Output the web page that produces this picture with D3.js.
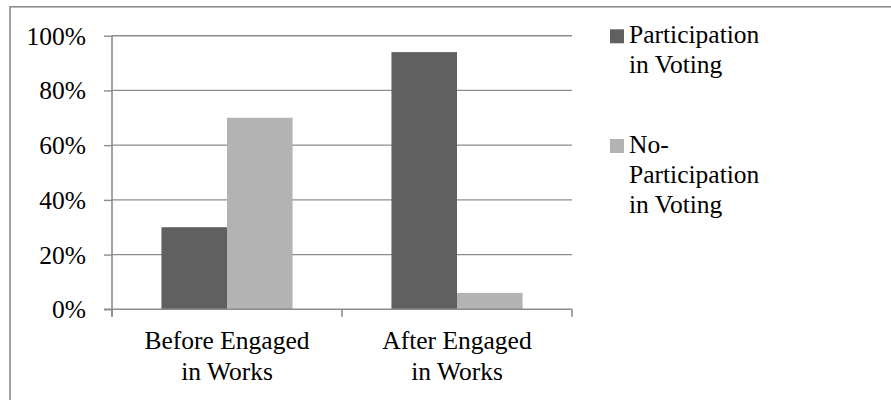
<!DOCTYPE html>
<html>
<head>
<meta charset="utf-8">
<script src="https://cdn.jsdelivr.net/npm/d3@7"></script>
<style>
  body { margin: 0; background: #fff; }
</style>
</head>
<body>
<svg class="chart"></svg>
<script>
// chart data
var categories = [["Before Engaged", "in Works"], ["After Engaged", "in Works"]];
var seriesNames = [["Participation", "in Voting"], ["No-", "Participation", "in Voting"]];
var participation = [0.30, 0.94];
var noParticipation = [0.70, 0.06];
var yTicks = [0, 0.2, 0.4, 0.6, 0.8, 1.0];

var serif = "'Liberation Serif', 'Times New Roman', serif";

function renderChart() {
    var width = 891, height = 400;
    var margin = { top: 35.7, left: 112, right: 319, bottom: 90.7 };
    var colors = ["#606060", "#b3b3b3"];
    var gridColor = "#8c8c8c";
    var fontSize = 25.5;

    var chart = d3.select(".chart")
        .attr("width", width)
        .attr("height", height);

    // outer frame, runs off the right and bottom edge
    chart.append("rect")
        .attr("x", 10).attr("y", 6.8)
        .attr("width", 900).attr("height", 420)
        .attr("fill", "none")
        .attr("stroke", gridColor)
        .attr("stroke-width", 1.6);

    var xScale = d3.scaleBand()
        .domain(d3.range(categories.length))
        .range([margin.left, width - margin.right])
        .paddingInner(0.43)
        .paddingOuter(0.215);

    var yScale = d3.scaleLinear()
        .domain([0, 1])
        .range([height - margin.bottom, margin.top]);

    // gridlines
    chart.append("g").selectAll("line")
        .data(yTicks.slice(1))
        .enter()
        .append("line")
        .attr("x1", margin.left).attr("x2", width - margin.right)
        .attr("y1", function(d) { return yScale(d); })
        .attr("y2", function(d) { return yScale(d); })
        .attr("stroke", gridColor)
        .attr("stroke-width", 1.4);

    // bars
    var sub = d3.scaleBand()
        .domain([0, 1])
        .range([0, xScale.bandwidth()]);
    var series = [participation, noParticipation];
    series.forEach(function(values, s) {
        chart.append("g").selectAll("rect")
            .data(values)
            .enter()
            .append("rect")
            .attr("x", function(d, i) { return xScale(i) + sub(s); })
            .attr("width", sub.bandwidth())
            .attr("y", function(d) { return yScale(d); })
            .attr("height", function(d) { return yScale(0) - yScale(d); })
            .attr("fill", colors[s]);
    });

    // y axis
    var yAxis = d3.axisLeft(yScale)
        .tickValues(yTicks)
        .tickSize(8)
        .tickPadding(18)
        .tickFormat(d3.format(".0%"));
    var yg = chart.append("g")
        .attr("transform", "translate(" + margin.left + ",0)")
        .call(yAxis);
    yg.select(".domain").remove();
    yg.append("line")
        .attr("y1", yScale(1)).attr("y2", yScale(0) + 7.5)
        .attr("stroke", gridColor).attr("stroke-width", 1.6);
    yg.selectAll(".tick line").attr("stroke", gridColor).attr("stroke-width", 1.4);
    yg.selectAll(".tick text")
        .attr("font-size", fontSize)
        .attr("dy", "0.33em")
        .attr("fill", "#000")
        .style("font-family", serif);

    // x axis line and ticks between categories
    var xAxisY = yScale(0);
    var xEdges = d3.range(categories.length + 1).map(function(i) {
        return margin.left + i * (width - margin.right - margin.left) / categories.length;
    });
    chart.append("line")
        .attr("x1", margin.left - 8).attr("x2", width - margin.right)
        .attr("y1", xAxisY).attr("y2", xAxisY)
        .attr("stroke", gridColor).attr("stroke-width", 1.6);
    chart.append("g").selectAll("line")
        .data(xEdges)
        .enter()
        .append("line")
        .attr("x1", function(d) { return d; }).attr("x2", function(d) { return d; })
        .attr("y1", xAxisY).attr("y2", xAxisY + 7.5)
        .attr("stroke", gridColor).attr("stroke-width", 1.6);

    // category labels
    chart.append("g").selectAll("text")
        .data(categories)
        .enter()
        .append("text")
        .attr("text-anchor", "middle")
        .attr("font-size", fontSize)
        .style("font-family", serif)
        .attr("x", function(d, i) { return xScale(i) + xScale.bandwidth() / 2; })
        .attr("y", 348.5)
        .each(function(lines) {
            var t = d3.select(this);
            var x = t.attr("x");
            lines.forEach(function(line, k) {
                t.append("tspan").attr("x", x).attr("dy", k === 0 ? 0 : 31).text(line);
            });
        });

    // legend
    var legendTop = [43.3, 153];
    var legend = chart.append("g");
    seriesNames.forEach(function(lines, s) {
        legend.append("rect")
            .attr("x", 610).attr("y", legendTop[s] - 14)
            .attr("width", 14).attr("height", 14)
            .attr("fill", colors[s]);
        var t = legend.append("text")
            .attr("x", 629).attr("y", legendTop[s])
            .attr("font-size", fontSize)
            .style("font-family", serif);
        lines.forEach(function(line, k) {
            t.append("tspan").attr("x", 629).attr("dy", k === 0 ? 0 : 30).text(line);
        });
    });
}

window.onload = renderChart;
</script>
</body>
</html>
